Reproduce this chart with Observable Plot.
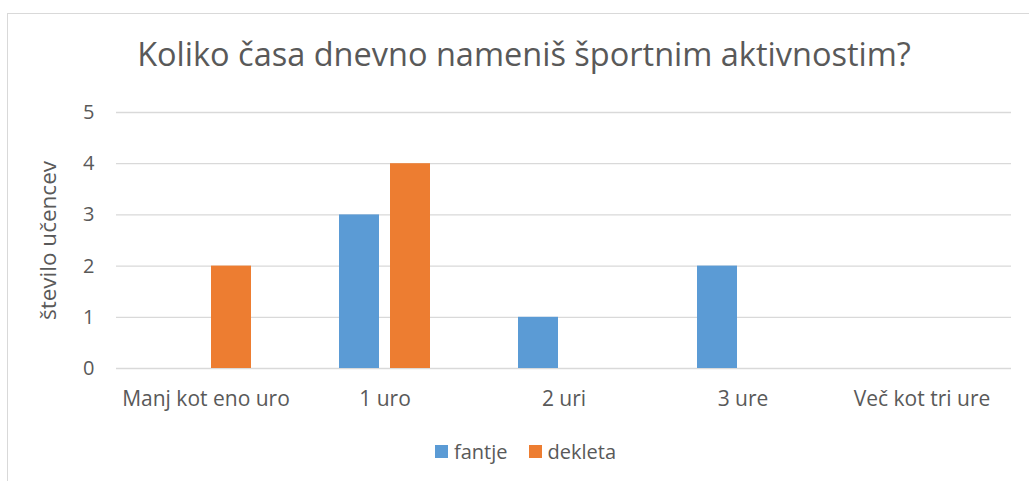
<!DOCTYPE html>
<html>
<head>
<meta charset="utf-8">
<script src="https://cdn.jsdelivr.net/npm/d3@7"></script>
<script src="https://cdn.jsdelivr.net/npm/@observablehq/plot@0.6"></script>
<style>
  html, body { margin: 0; padding: 0; background: #fff; }
  body { width: 1029px; height: 481px; overflow: hidden; position: relative; font-family: "Open Sans", sans-serif; }
  #frame { position: absolute; left: 7px; top: 13px; width: 1040px; height: 500px; border: 1px solid #d9d9d9; box-sizing: border-box; }
  #title { position: absolute; left: 0; width: 1048px; top: 38px; text-align: center; font-size: 32.5px; line-height: 1; color: #595959; white-space: nowrap; }
  #chart { position: absolute; left: 0; top: 0; }
  #chart g[aria-label="y-axis label"], #chart g[aria-label="y-axis label"] text { font-size: 22.5px !important; }
  #legend { position: absolute; left: 435px; top: 435px; }
  #legend .lg-swatch { margin-right: 21px !important; }
  #legend .lg-swatch > svg { margin-right: 6px !important; }
</style>
</head>
<body>
<div id="frame"></div>
<div id="title">Koliko časa dnevno nameniš športnim aktivnostim?</div>
<div id="chart"></div>
<div id="legend"></div>
<script>
const categories = ["Manj kot eno uro", "1 uro", "2 uri", "3 ure", "Več kot tri ure"];
const series = ["fantje", "dekleta"];
const fantje = [0, 3, 1, 2, 0];
const dekleta = [2, 4, 0, 0, 0];
const colors = ["#5B9BD5", "#ED7D31"];
const yTicks = [0, 1, 2, 3, 4, 5];
const yLabel = "število učencev";

const data = [];
categories.forEach((c, i) => {
  data.push({cat: c, sex: series[0], value: fantje[i]});
  data.push({cat: c, sex: series[1], value: dekleta[i]});
});

const textColor = "#595959";

const chart = Plot.plot({
  width: 1029,
  height: 430,
  marginLeft: 115,
  marginRight: 17,
  marginTop: 112,
  marginBottom: 62,
  style: {fontFamily: "Open Sans", fontSize: "20px", color: textColor, background: "transparent"},
  fx: {domain: categories, padding: 0},
  x: {domain: series, paddingInner: 0.21, paddingOuter: 0.845, axis: null},
  y: {domain: [0, 5]},
  color: {domain: series, range: colors},
  marks: [
    Plot.gridY(yTicks, {stroke: "#d9d9d9", strokeOpacity: 1, strokeWidth: 1.3}),
    Plot.barY(data, {fx: "cat", x: "sex", y: "value", fill: "sex"}),
    Plot.axisY(yTicks, {tickSize: 0, tickPadding: 22, fontSize: 20, tickFormat: d => String(d), color: textColor, label: yLabel, labelAnchor: "center", labelArrow: "none", labelOffset: 76}),
    Plot.axisFx({anchor: "bottom", tickSize: 0, tickPadding: 23, fontSize: 21, color: textColor, label: null})
  ]
});
document.getElementById("chart").appendChild(chart);

const legend = Plot.legend({
  color: {domain: series, range: colors},
  swatchSize: 13,
  className: "lg",
  style: {fontFamily: "Open Sans", fontSize: "20px", color: textColor}
});
document.getElementById("legend").appendChild(legend);
</script>
</body>
</html>
